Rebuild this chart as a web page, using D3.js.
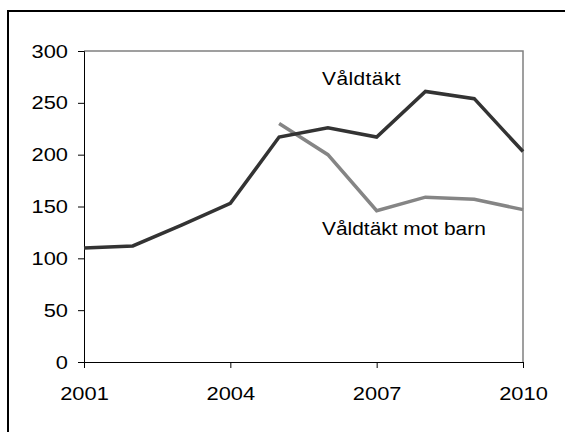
<!DOCTYPE html>
<html>
<head>
<meta charset="utf-8">
<script src="https://cdn.jsdelivr.net/npm/d3@7"></script>
<style>
  body { margin: 0; background: #fff; }
  svg { display: block; font-family: "Liberation Sans", Arial, sans-serif; }
</style>
</head>
<body>
<svg width="565" height="432"></svg>
<script>
// Data

const years = [2001, 2002, 2003, 2004, 2005, 2006, 2007, 2008, 2009, 2010]
const rape = [110, 112, 132, 153, 217, 226, 217, 261, 254, 203]
const childYears = [2005, 2006, 2007, 2008, 2009, 2010]
const childRape = [230, 200, 146, 159, 157, 147]
const yTicks = [0, 50, 100, 150, 200, 250, 300]
const xTicks = [2001, 2004, 2007, 2010]

// Layout

const svg = d3.select('svg')

const margin = {left: 84, top: 51, right: 523, bottom: 362}

// The source text is a bit wider than plain Arial
const stretch = 1.15
const labelStretch = 1.1

const x = d3.scaleLinear()
    .domain([2001, 2010])
    .range([margin.left, margin.right])

const y = d3.scaleLinear()
    .domain([0, 300])
    .range([margin.bottom, margin.top])

// Outer frame (only left and top edges fall inside the picture)
svg.append('rect')
    .attr('x', 8)
    .attr('y', 11)
    .attr('width', 600)
    .attr('height', 500)
    .attr('fill', 'none')
    .attr('stroke', '#000')
    .attr('stroke-width', 2)

// Plot area top/right border
svg.append('path')
    .attr('d', `M${margin.left},${margin.top}H${margin.right}V${margin.bottom}`)
    .attr('fill', 'none')
    .attr('stroke', '#808080')
    .attr('stroke-width', 1.5)

// Axes

const yAxis = svg.append('g')
    .attr('transform', `translate(${margin.left},0)`)
    .call(d3.axisLeft(y).tickValues(yTicks).tickSize(6).tickPadding(10))

const xAxis = svg.append('g')
    .attr('transform', `translate(0,${margin.bottom})`)
    .call(d3.axisBottom(x).tickValues(xTicks).tickFormat(d3.format('d')).tickSize(6).tickPadding(19))

svg.selectAll('.domain')
    .attr('stroke', '#000')
svg.selectAll('.tick line')
    .attr('stroke', '#000')
svg.selectAll('.tick text')
    .attr('fill', '#000')
    .attr('transform', `scale(${stretch},1)`)
    .style('font-size', '19px')
    .style('font-family', '"Liberation Sans", Arial, sans-serif')

yAxis.selectAll('.tick text')
    .attr('x', -16 / stretch)

// Lines

const line = d3.line()
    .x(d => x(d[0]))
    .y(d => y(d[1]))

svg.append('path')
    .datum(d3.zip(childYears, childRape))
    .attr('d', line)
    .attr('fill', 'none')
    .attr('stroke', '#858585')
    .attr('stroke-width', 3.5)

svg.append('path')
    .datum(d3.zip(years, rape))
    .attr('d', line)
    .attr('fill', 'none')
    .attr('stroke', '#333333')
    .attr('stroke-width', 3.5)

// Labels

svg.append('text')
    .attr('transform', `translate(322,85) scale(${labelStretch},1)`)
    .style('font-size', '19px')
    .style('letter-spacing', '0.4px')
    .text('Våldtäkt')

svg.append('text')
    .attr('transform', `translate(322,235) scale(${labelStretch},1)`)
    .style('font-size', '19px')
    .text('Våldtäkt mot barn')
</script>
</body>
</html>
